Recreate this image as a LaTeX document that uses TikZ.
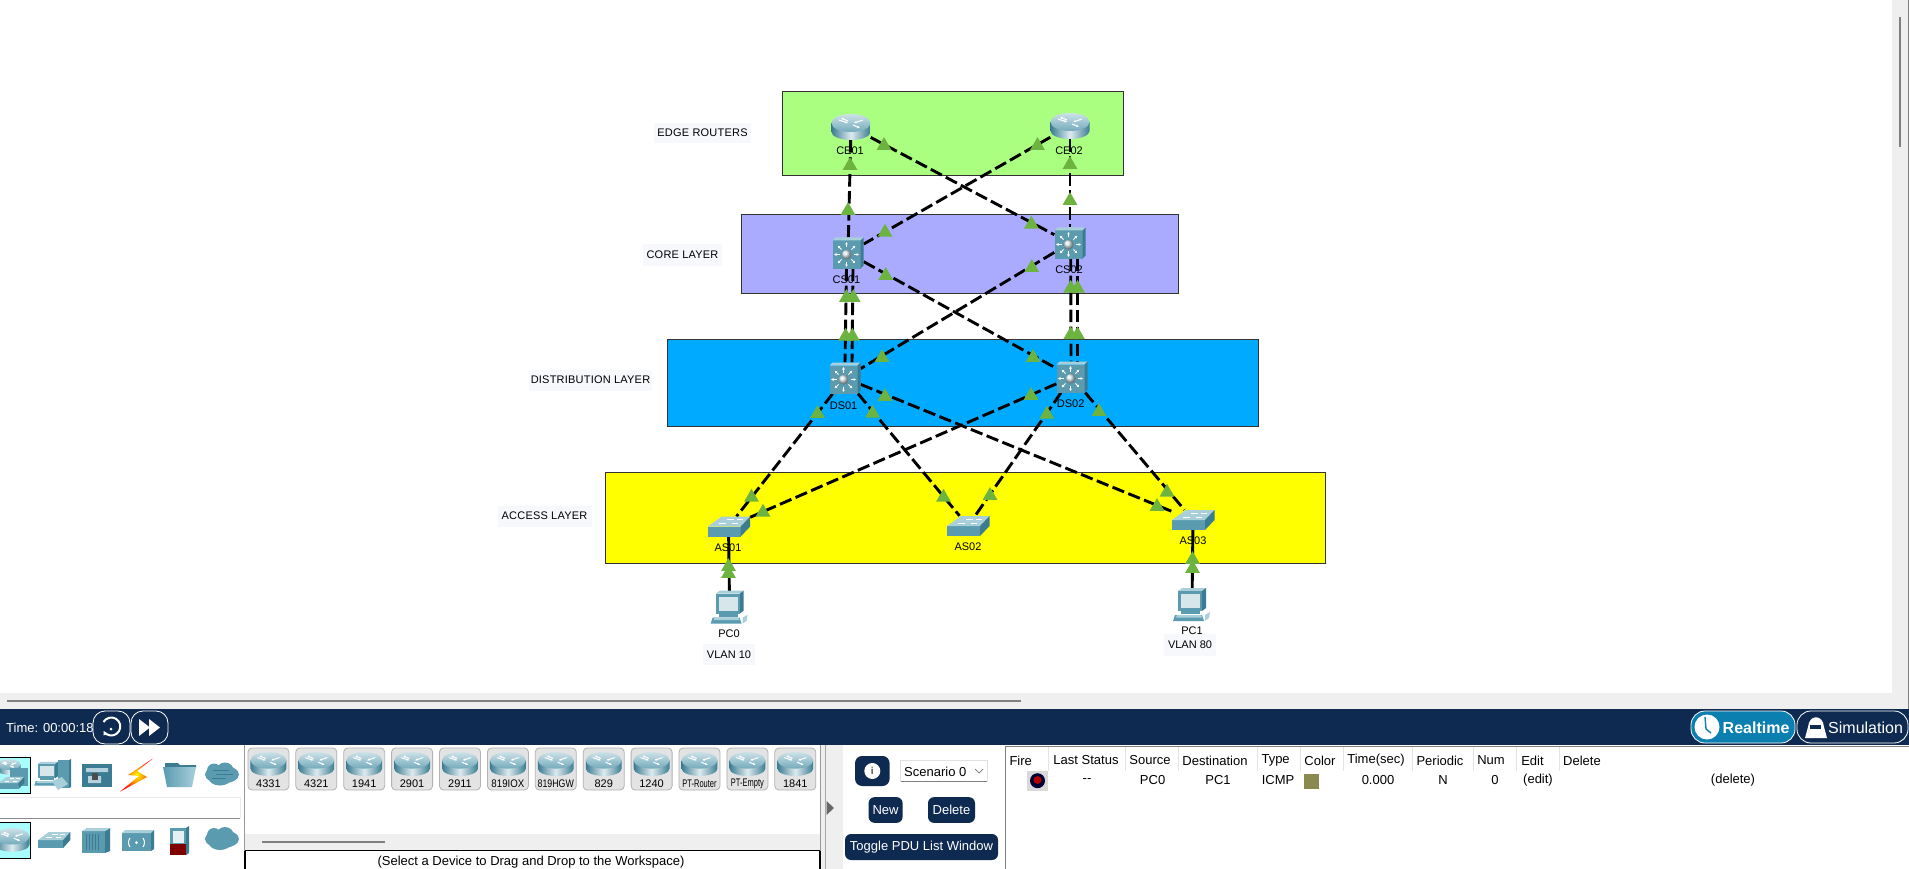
\documentclass[tikz,border=0pt]{standalone}
\usepackage{fontspec}
\setmainfont{Liberation Sans}
\newfontfamily\spacedfont[LetterSpace=2]{Liberation Sans}
\usetikzlibrary{arrows.meta,shapes.geometric}
\definecolor{navybar}{HTML}{0F2A50}
\definecolor{teal}{HTML}{5A9BB0}
\definecolor{tealdark}{HTML}{3B7C92}
\definecolor{teallight}{HTML}{A9CFDB}
\definecolor{edgegreen}{HTML}{AAFF80}
\definecolor{corepurple}{HTML}{AAAAFF}
\definecolor{distblue}{HTML}{00AAFF}
\definecolor{accessyellow}{HTML}{FFFF00}
\definecolor{tipgreen}{HTML}{6DB33F}
\definecolor{notefill}{HTML}{F6F8FC}
\definecolor{stripgray}{HTML}{EFEFEF}
\definecolor{selcyan}{HTML}{A8FDFD}
\definecolor{realblue}{HTML}{0A7FB0}
\definecolor{pducolor}{HTML}{8A8A50}
\pgfdeclarelayer{panel}
\pgfdeclarelayer{wires}
\pgfsetlayers{panel,wires,main}
\tikzset{
  layerbox/.style={draw=black!80,line width=0.9pt},
  notebox/.style={fill=notefill,inner sep=0pt,font=\spacedfont\fontsize{11}{13}\selectfont},
  devlabel/.style={inner sep=0pt,font=\fontsize{11}{13}\selectfont},
  devnode/.style={inner sep=0pt},
  netlink/.style={line width=2.9pt,dash pattern=on 12.5pt off 4.5pt},
  cablelink/.style={line width=2.9pt},
  uptip/.style={regular polygon,regular polygon sides=3,minimum size=17pt,inner sep=0pt,
    fill=tipgreen,yshift=-1.6pt},
  navybtn/.style={fill=navybar,rounded corners=6pt,inner sep=0pt,text=white,
    font=\fontsize{13}{15}\selectfont},
  uitext/.style={inner sep=0pt,font=\fontsize{13}{15}\selectfont},
  pilltext/.style={inner sep=0pt,text=white,font=\fontsize{16}{18}\selectfont},
  tile/.style={fill=black!11,draw=black!30,rounded corners=4pt,line width=0.8pt,
    minimum width=41pt,minimum height=42pt,inner sep=0pt},
  pics/routericon/.style={code={
    \shade[left color=tealdark,right color=tealdark,middle color=white!80!teal]
      (-19.5,-4) -- (-19.5,5) arc[start angle=180,end angle=360,x radius=19.5pt,y radius=8pt]
      -- (19.5,-4) -- cycle;
    \shade[top color=white!70!teal,bottom color=teal!85] (0,-4) ellipse[x radius=19.5pt,y radius=9pt];
    \draw[white,line width=1pt,-{Latex[length=2.5pt,width=2.5pt]}] (-12,-7) -- (-3,-4);
    \draw[white,line width=1pt,-{Latex[length=2.5pt,width=2.5pt]}] (-3,-6) -- (-10,-9);
    \draw[white,line width=1pt,-{Latex[length=2.5pt,width=2.5pt]}] (12,-7) -- (3,-4);
    \draw[white,line width=1pt,-{Latex[length=2.5pt,width=2.5pt]}] (2,-2) -- (9,1);
  }},
  pics/mlsicon/.style={code={
    \fill[teal] (-15.5,-12.5) rectangle (12.5,15.5);
    \fill[teallight] (-15.5,-12.5) -- (-12.5,-15.5) -- (15.5,-15.5) -- (12.5,-12.5) -- cycle;
    \fill[tealdark] (12.5,-12.5) -- (15.5,-15.5) -- (15.5,12.5) -- (12.5,15.5) -- cycle;
    \foreach \ang in {0,45,...,315}
      \draw[white,line width=1pt,-{Latex[length=2.5pt,width=3pt]}]
        ([shift={(-1.5,1.5)}]\ang:7pt) -- ([shift={(-1.5,1.5)}]\ang:12.5pt);
    \shade[ball color=white!75!teal] (-1.5,1.5) circle[radius=5pt];
  }},
  pics/switchicon/.style={code={
    \fill[teal] (-21,0) rectangle (12,10);
    \fill[teallight] (-21,0) -- (12,0) -- (21.5,-10) -- (-7,-10) -- cycle;
    \fill[tealdark] (12,0) -- (21.5,-10) -- (21.5,0) -- (12,10) -- cycle;
    \draw[white,line width=0.8pt] (-10,-3) -- (-3,-3) (-2,-7) -- (5,-7) (3,-3) -- (9,-3) (8,-7) -- (14,-7);
  }},
  pics/pcicon/.style={code={
    \fill[teallight] (-14,-14) -- (-10,-17) -- (14,-17) -- (10,-14) -- cycle;
    \fill[tealdark] (10,-14) -- (14,-17) -- (14,3) -- (10,6) -- cycle;
    \fill[teal] (-14,-14) rectangle (10,6);
    \fill[white!75!teal] (-11,-11) rectangle (8,3);
    \fill[teal] (-11,6) rectangle (8,9);
    \fill[teal] (-17,10) -- (10,10) -- (12,16) -- (-19,16) -- cycle;
    \fill[teallight] (-15,10) -- (9,10) -- (10,12.5) -- (-16,12.5) -- cycle;
    \fill[teallight] (13,10) -- (18,7) -- (17,13) -- (13,16) -- cycle;
  }},
}
\begin{document}
\begin{tikzpicture}[x=1pt,y=-1pt,>=Latex]
  \useasboundingbox (0,0) rectangle (1909,869);
  % --- layer bands ---
  \begin{pgfonlayer}{panel}
    \fill[white] (0,0) rectangle (1909,869);
    \draw[layerbox,fill=edgegreen] (782.5,91.3) rectangle (1123.6,175.7);
    \draw[layerbox,fill=corepurple] (741,214.7) rectangle (1178,293.3);
    \draw[layerbox,fill=distblue] (667,339.2) rectangle (1258.4,426.3);
    \draw[layerbox,fill=accessyellow] (605.6,472) rectangle (1325,563.2);
    \node[notebox,minimum width=97pt,minimum height=20pt] (edgenote) at (702.5,133) {EDGE ROUTERS};
    \node[notebox,minimum width=79pt,minimum height=21pt] (corenote) at (682.5,255) {CORE LAYER};
    \node[notebox,minimum width=123pt,minimum height=21pt] (distnote) at (590.5,380) {DISTRIBUTION LAYER};
    \node[notebox,minimum width=94pt,minimum height=21pt] (accessnote) at (544.5,516) {ACCESS LAYER};
    \node[notebox,minimum width=52pt,minimum height=21pt,font=\fontsize{11}{13}\selectfont] (vlanA) at (729,654.5) {VLAN 10};
    \node[notebox,minimum width=52pt,minimum height=22pt,font=\fontsize{11}{13}\selectfont] (vlanB) at (1190,645) {VLAN 80};
    % device names sit under the links
    \node[devlabel] (CE01txt) at (850,151) {CE01};
    \node[devlabel] (CE02txt) at (1069,151) {CE02};
    \node[devlabel] (CS01txt) at (846.4,280) {CS01};
    \node[devlabel] (CS02txt) at (1069,270) {CS02};
    \node[devlabel] (DS01txt) at (843.6,406) {DS01};
    \node[devlabel] (DS02txt) at (1070.7,403.7) {DS02};
    \node[devlabel] (AS01txt) at (728,548) {AS01};
    \node[devlabel] (AS02txt) at (968,547) {AS02};
    \node[devlabel] (AS03txt) at (1193,541) {AS03};
    \node[devlabel] (PC0txt) at (729,634) {PC0};
    \node[devlabel] (PC1txt) at (1192,630.7) {PC1};
  \end{pgfonlayer}
  % --- devices ---
  \foreach \name/\x/\y/\devw/\devh in {CE01/851/127/39/26,CE02/1070/126/39/26,
      CS01/848/253/31/31,CS02/1070/243/31/31,DS01/845/378/31/31,DS02/1072/377/31/31,
      AS01/728.5/526.7/43/20,AS02/968/526/43/20,AS03/1193/520/43/20,
      PC0/729.6/607.7/38/32,PC1/1192/605/38/32}
    \node[devnode,minimum width=\devw pt,minimum height=\devh pt] (\name) at (\x,\y) {};
  \foreach \name in {CE01,CE02} \pic at (\name) {routericon};
  \foreach \name in {CS01,CS02,DS01,DS02} \pic at (\name) {mlsicon};
  \foreach \name in {AS01,AS02,AS03} \pic at (\name) {switchicon};
  \foreach \name in {PC0,PC1} \pic at (\name) {pcicon};
  % --- links ---
  \begin{pgfonlayer}{wires}
    \foreach \from/\to in {CE01/CS01,CE02/CS02,CE01/CS02,CE02/CS01,CS01/DS02,CS02/DS01,
        DS01/AS01,DS01/AS02,DS01/AS03,DS02/AS01,DS02/AS02,DS02/AS03}
      \draw[netlink] (\from) -- (\to);
    \draw[netlink] ([xshift=-1.5pt]CS01.south) -- ([xshift=0pt]DS01.north);
    \draw[netlink] ([xshift=5pt]CS01.south) -- ([xshift=7pt]DS01.north);
    \draw[netlink] ([xshift=0.7pt]CS02.south) -- ([xshift=-1pt]DS02.north);
    \draw[netlink] ([xshift=7.5pt]CS02.south) -- ([xshift=5.5pt]DS02.north);
    \draw[cablelink] (PC0) -- (AS01);
    \draw[cablelink] (PC1) -- (AS03);
    % arrow marks of the running PDU
    \foreach \x/\y [count=\i] in {850/164,848/209,1070/163,1070/199,884/144,1031.4/222.7,
        1037.5/144,885/230.7,846.4/296,853.2/296,845.6/334.7,852.4/334.7,
        1070.7/286.7,1077.5/286.7,1070.7/333.3,1077.5/333.3,885.7/274,1033/356,
        1031.8/266,882/356,885/395,1157/505,1031/394,763/510.7,817.5/412,751.5/495.7,
        872.5/411.7,943.5/495.7,1046.8/412.7,990/494,1099/410,1167/490.7,
        728.5/565,728.5/572,1192.5/558,1192.5/567}
      \node[uptip] (tip\i) at (\x,\y) {};
  \end{pgfonlayer}
  % --- workspace scroll bars ---
  \fill[stripgray] (0,693) rectangle (1909,710);
  \fill[stripgray] (1892,0) rectangle (1908,693);
  \fill[black!50] (1899,17) rectangle (1901,147);
  \fill[black!50] (1908,0) rectangle (1909,710);
  \fill[black!50] (7,700) rectangle (1021,702);
  % --- time bar ---
  \fill[navybar] (0,709) rectangle (1909,745);
  \node[uitext,text=white,anchor=west] (timetxt) at (6,727.5) {Time: 00:00:18};
  \draw[white,fill=navybar,rounded corners=12pt,line width=0.8pt] (93,711) rectangle (130,744);
  \draw[white,fill=navybar,rounded corners=12pt,line width=0.8pt] (131,711) rectangle (168,744);
  \draw[white,line width=2pt,-{Latex[length=4pt,width=5pt]}]
    (103.5,722) arc[start angle=150,end angle=-150,radius=9pt];
  \fill[white] (111,729) circle[radius=1.5pt];
  \fill[white] (139,719) -- (150,727.5) -- (139,736) -- cycle;
  \fill[white] (149,719) -- (160,727.5) -- (149,736) -- cycle;
  \draw[white,fill=realblue,rounded corners=14pt,line width=0.8pt] (1691,711) rectangle (1795,743);
  \draw[white,fill=navybar,rounded corners=14pt,line width=0.8pt] (1797,711) rectangle (1908,743);
  \fill[white] (1707,727) circle[radius=12.5pt];
  \draw[realblue,line width=1.4pt] (1705,717) -- (1706,729) -- (1711,733);
  \node[pilltext,anchor=west,font=\bfseries\fontsize{16}{18}\selectfont] (realtxt) at (1722.5,727.5) {Realtime};
  \node[pilltext,anchor=west] (simtxt) at (1828,727.5) {Simulation};
  \fill[white] (1805,738) -- (1808,727) .. controls (1809,714) and (1823,714) .. (1824,727) -- (1827,738) -- cycle;
  \fill[navybar] (1810,725) rectangle (1821,729);
  % --- device type selector ---
  \fill[selcyan] (0,757) rectangle (30.5,793.5);
  \draw[black,line width=0.8pt] (-1,757) -- (30.5,757) -- (30.5,793.5) -- (-1,793.5);
  \begin{scope}
    \clip (0,757) rectangle (30,793);
    \pic[scale=.6] at (9,767) {routericon};
    \fill[teal] (10,768) rectangle (28,786);
    \pic[scale=.62] at (11,783) {switchicon};
  \end{scope}
  \pic[scale=.72] at (48,774) {pcicon};
  \fill[teal] (58,760) rectangle (69,788);
  \fill[tealdark] (69,760) -- (71,759) -- (71,787) -- (69,788) -- cycle;
  \fill[teallight] (52,781) -- (62,777) -- (68,784) -- (58,790) -- cycle;
  \fill[tealdark] (82,764) rectangle (112,787);
  \fill[white!55!teal] (86,768) rectangle (108,772) (88,776) rectangle (101,783);
  \fill[black!70] (92,773) rectangle (98,780);
  \shade[inner color=yellow,outer color=red]
    (153.3,758.3) -- (128,775) -- (139,776) -- (120,791.7) -- (147,777) -- (137,771) -- cycle;
  \fill[tealdark] (165,763) -- (178,763) -- (180,765) -- (196,765) -- (196,768) -- (165,768) -- cycle;
  \shade[left color=teal,right color=teallight] (163,767) -- (196,767) -- (192,787) -- (167,787) -- cycle;
  \foreach \cy/\stripes in {774.5/1,839/0}{
    \fill[teal] (222,\cy) ellipse[x radius=17pt,y radius=9pt];
    \fill[teal] (214,\cy-4) circle[radius=7pt];
    \fill[teal] (225,\cy-3) circle[radius=9pt];
    \fill[teal] (220,\cy+4) ellipse[x radius=11pt,y radius=7pt];
    \ifnum\stripes=1
      \draw[tealdark,line width=1pt] (213,\cy-4) -- (229,\cy-4) (216,\cy) -- (233,\cy) (212,\cy+4) -- (226,\cy+4);
    \fi
  }
  \draw[black!8,line width=0.8pt] (0,797) -- (240,797) -- (240,818);
  \draw[black!45,line width=0.8pt] (0,818.5) -- (240,818.5);
  \fill[selcyan] (0,822) rectangle (30.5,858.5);
  \draw[black,line width=0.8pt] (-1,822) -- (30.5,822) -- (30.5,858.5) -- (-1,858.5);
  \begin{scope}
    \clip (0,822) rectangle (30,858);
    \pic[scale=.9] at (12,840) {routericon};
  \end{scope}
  \pic[xscale=.76,yscale=.8] at (54,840) {switchicon};
  \fill[teal] (82,831) rectangle (105,853);
  \fill[tealdark] (105,831) -- (110,828) -- (110,851) -- (105,853) -- cycle;
  \fill[teallight] (82,831) -- (87,828) -- (110,828) -- (105,831) -- cycle;
  \foreach \x in {86,89,92,95,98} \draw[tealdark,line width=1pt] (\x,834) -- (\x,850);
  \fill[teal] (122,833) rectangle (151,851);
  \fill[teallight] (122,833) -- (125,830) -- (154,830) -- (151,833) -- cycle;
  \fill[tealdark] (151,833) -- (154,830) -- (154,849) -- (151,851) -- cycle;
  \draw[white,line width=1pt] (130,838) .. controls (128,841) and (128,844) .. (130,847)
    (143,838) .. controls (145,841) and (145,844) .. (143,847);
  \fill[white] (136.5,842.5) circle[radius=1.5pt];
  \fill[teal] (170,828) rectangle (186,844);
  \fill[tealdark] (186,828) -- (189,826) -- (189,853) -- (186,855) -- cycle;
  \fill[red!50!black] (170,844) rectangle (186,855);
  \fill[white!85!teal] (173,831) rectangle (184,843);
  % --- device list ---
  \draw[black!40,line width=1pt] (244.5,745) -- (244.5,851);
  \foreach \lab/\sx [count=\i from 0] in {4331/1,4321/1,1941/1,2901/1,2911/1,819IOX/.88,
      819HGW/.8,829/1,1240/1,PT-Router/.68,PT-Empty/.68,1841/1}{
    \node[tile] (tile\i) at (268.4+47.9*\i,769) {};
    \pic[xscale=.92,yscale=.92] at (268.4+47.9*\i,764) {routericon};
    \node[devlabel,xscale=\sx] (tiletxt\i) at (268.4+47.9*\i,784) {\lab};
  }
  \fill[stripgray] (245,834) rectangle (820,850);
  \fill[black!50] (262,841) rectangle (385,843);
  \draw[black,line width=1.2pt] (245,850.7) -- (820,850.7);
  \draw[black,line width=1.2pt] (245,850.7) -- (245,869);
  \draw[black,line width=1.2pt] (820,850.7) -- (820,869);
  \draw[black!40,line width=1pt] (820,745) -- (820,851);
  \node[uitext] (hinttxt) at (531,862) {(Select a Device to Drag and Drop to the Workspace)};
  \fill[stripgray] (820.5,745) rectangle (843,869);
  \draw[black!35,line width=0.8pt] (825,745) -- (825,869);
  \fill[black!60] (826.5,801) -- (834,808) -- (826.5,815) -- cycle;
  % --- scenario panel ---
  \node[navybtn,minimum width=34.5pt,minimum height=30pt,rounded corners=7pt] (infobtn) at (872.3,771) {};
  \fill[white] (872.3,771) circle[radius=8pt];
  \node[devlabel,font=\bfseries\fontsize{10}{12}\selectfont,text=black!70] (infotxt) at (872.3,771) {i};
  \draw[black!12,line width=0.8pt] (900.5,781.7) -- (900.5,760) -- (987,760) -- (987,781.7);
  \draw[black!50,line width=0.8pt] (900.5,781.7) -- (987,781.7);
  \node[uitext,anchor=west] (scentxt) at (904,771.5) {Scenario 0};
  \draw[black!55,line width=0.7pt] (975,769) -- (979,773) -- (983,769);
  \node[navybtn,minimum width=34pt,minimum height=25.7pt] (newbtn) at (885.6,810) {New};
  \node[navybtn,minimum width=47pt,minimum height=25.7pt] (delbtn) at (951.5,810) {Delete};
  \node[navybtn,minimum width=153pt,minimum height=26pt] (togglebtn) at (921.5,847) {Toggle PDU List Window};
  % --- PDU table ---
  \draw[black!50,line width=0.8pt] (1909,746) -- (1005.4,746) -- (1005.4,869);
  \foreach \x in {1048.5,1125.6,1178,1257.5,1300.5,1343,1412,1473,1516,1559}
    \draw[black!10,line width=0.8pt] (\x,747) -- (\x,771);
  \foreach \lab/\x [count=\i] in {Fire/1020.7,Last Status/1086,Source/1150,Destination/1215,
      Type/1275.6,Color/1320,Time(sec)/1376,Periodic/1440,Num/1491,Edit/1532.5,Delete/1582}
    \node[uitext] (head\i) at (\x,760.5) {\lab};
  \foreach \lab/\x [count=\i] in {{-{}-}/1087,PC0/1152.6,PC1/1218,ICMP/1278,0.000/1378,N/1443,
      0/1495,{(edit)}/1538,{(delete)}/1733}
    \node[uitext] (cell\i) at (\x,780.5) {\lab};
  \fill[black!15] (1027,770.7) rectangle (1048,790.7);
  \fill[black!80!blue] (1037.5,780.7) circle[radius=7.5pt];
  \fill[red!70!black] (1037.5,780) circle[radius=4pt];
  \fill[pducolor] (1304,774) rectangle (1318.6,788.7);
\end{tikzpicture}
\end{document}
